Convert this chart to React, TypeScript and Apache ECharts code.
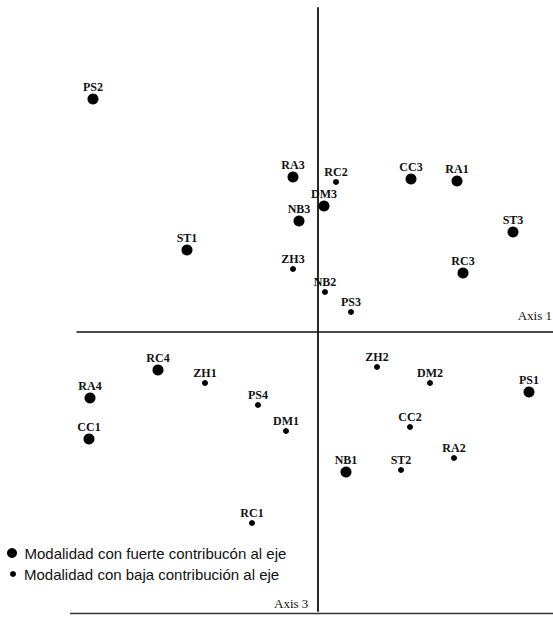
import React, { useEffect, useRef } from "react";
import * as echarts from "echarts";

// Axis 1 (horizontal) and Axis 3 (vertical) coordinates of the modalities
const strongNames = ["PS2", "RA3", "NB3", "ST1", "DM3", "CC3", "RA1", "ST3", "RC3", "RC4", "RA4", "CC1", "PS1", "NB1"];
const strongX = [-2.25, -0.25, -0.19, -1.31, 0.06, 0.93, 1.39, 1.95, 1.45, -1.6, -2.28, -2.29, 2.11, 0.28];
const strongY = [2.33, 1.55, 1.11, 0.82, 1.26, 1.53, 1.51, 1.0, 0.59, -0.38, -0.66, -1.07, -0.6, -1.4];

const weakNames = ["ZH3", "RC2", "NB2", "PS3", "ZH1", "PS4", "DM1", "RC1", "ZH2", "DM2", "CC2", "RA2", "ST2"];
const weakX = [-0.25, 0.18, 0.07, 0.33, -1.13, -0.6, -0.32, -0.66, 0.59, 1.12, 0.92, 1.36, 0.83];
const weakY = [0.63, 1.5, 0.4, 0.2, -0.51, -0.73, -0.99, -1.91, -0.35, -0.51, -0.95, -1.26, -1.38];

const strongLabel = "Modalidad con fuerte contribucón al eje";
const weakLabel = "Modalidad con baja contribución al eje";
const axisXName = "Axis 1";
const axisYName = "Axis 3";

const build = (names: string[], xs: number[], ys: number[]) =>
  names.map((n, i) => ({ name: n, value: [xs[i], ys[i]] }));

export default function App() {
  const ref = useRef<HTMLDivElement>(null);
  useEffect(() => {
    document.body.style.margin = "0";
    const chart = echarts.init(ref.current!, null, { renderer: "svg" });
    const labelStyle = {
      show: true,
      position: "top" as const,
      distance: 1,
      formatter: "{b}",
      fontFamily: "Liberation Serif",
      fontWeight: "bold" as const,
      fontSize: 12,
      lineHeight: 12,
      color: "#111",
    };
    const legendText = { fontFamily: "Liberation Sans", fontSize: 15, color: "#111", lineHeight: 16 };
    chart.setOption({
      animation: false,
      backgroundColor: "#fff",
      grid: { left: 77, right: 0, top: 8, bottom: 12 },
      xAxis: {
        type: "value",
        min: -2.41,
        max: 2.35,
        axisLine: { show: true, onZero: true, lineStyle: { color: "#111", width: 1.5 } },
        axisTick: { show: false },
        axisLabel: { show: false },
        splitLine: { show: false },
      },
      yAxis: {
        type: "value",
        min: -2.79,
        max: 3.24,
        axisLine: { show: true, onZero: true, lineStyle: { color: "#111", width: 1.8 } },
        axisTick: { show: false },
        axisLabel: { show: false },
        splitLine: { show: false },
      },
      legend: [
        {
          data: [strongLabel],
          left: 7,
          top: 545,
          padding: 0,
          icon: "circle",
          itemWidth: 15,
          itemHeight: 10,
          textStyle: legendText,
        },
        {
          data: [weakLabel],
          left: 10,
          top: 566,
          padding: 0,
          icon: "circle",
          itemWidth: 12,
          itemHeight: 6,
          textStyle: legendText,
        },
      ],
      series: [
        {
          name: strongLabel,
          type: "scatter",
          symbolSize: 11,
          itemStyle: { color: "#000", opacity: 1 },
          label: labelStyle,
          data: build(strongNames, strongX, strongY),
        },
        {
          name: weakLabel,
          type: "scatter",
          symbolSize: 6,
          itemStyle: { color: "#000", opacity: 1 },
          label: labelStyle,
          data: build(weakNames, weakX, weakY),
        },
      ],
      graphic: [
        {
          type: "text",
          right: 1,
          top: 309,
          style: { text: axisXName, fontFamily: "Liberation Serif", fontSize: 13, fill: "#111" },
        },
        {
          type: "text",
          left: 274,
          top: 597,
          style: { text: axisYName, fontFamily: "Liberation Serif", fontSize: 13, fill: "#111" },
        },
        {
          type: "line",
          shape: { x1: 70, y1: 613.5, x2: 553, y2: 613.5 },
          style: { stroke: "#333", lineWidth: 1.5 },
        },
      ],
    });
    return () => chart.dispose();
  }, []);
  return <div ref={ref} style={{ width: 553, height: 623 }} />;
}
